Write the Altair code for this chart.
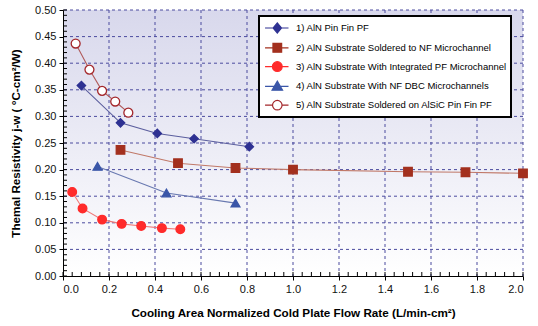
import altair as alt
import pandas as pd

# ---------------- data ----------------
names = [
    "1) AlN Pin Fin PF",
    "2) AlN Substrate Soldered to NF Microchannel",
    "3) AlN Substrate With Integrated PF Microchannel",
    "4) AlN Substrate With NF DBC Microchannels",
    "5) AlN Substrate Soldered on AlSiC Pin Fin PF",
]
s1_x = [0.08, 0.25, 0.41, 0.57, 0.81]
s1_y = [0.358, 0.288, 0.268, 0.258, 0.243]
s2_x = [0.25, 0.50, 0.75, 1.00, 1.50, 1.75, 2.00]
s2_y = [0.237, 0.212, 0.203, 0.200, 0.196, 0.195, 0.193]
s3_x = [0.04, 0.085, 0.17, 0.255, 0.34, 0.43, 0.51]
s3_y = [0.158, 0.127, 0.106, 0.098, 0.094, 0.090, 0.088]
s4_x = [0.15, 0.45, 0.75]
s4_y = [0.206, 0.156, 0.137]
s5_x = [0.055, 0.115, 0.17, 0.227, 0.284]
s5_y = [0.437, 0.388, 0.348, 0.328, 0.307]

x_ticks = [0.0, 0.2, 0.4, 0.6, 0.8, 1.0, 1.2, 1.4, 1.6, 1.8, 2.0]
y_ticks = [0.0, 0.05, 0.10, 0.15, 0.20, 0.25, 0.30, 0.35, 0.40, 0.45, 0.50]
x_minor = [round(i * 0.04, 2) for i in range(51)]
y_minor = [round(i * 0.01, 2) for i in range(51)]

xs_all = [s1_x, s2_x, s3_x, s4_x, s5_x]
ys_all = [s1_y, s2_y, s3_y, s4_y, s5_y]
rows = []
for n, xs, ys in zip(names, xs_all, ys_all):
    for a, b in zip(xs, ys):
        rows.append({"series": n, "x": a, "y": b})
df = pd.DataFrame(rows)

# ---------------- styles ----------------
W, H = 460, 266
FONT = "Liberation Sans"
marker_fill = ["#2E3192", "#A3301E", "#FF2B2B", "#3A56A8", "#FFFFFF"]
marker_stroke = ["#2E3192", "#A3301E", "#FF2B2B", "#3A56A8", "#A3262A"]
line_colors = ["#5B5E9E", "#C07868", "#F07878", "#6878B0", "#B05A5A"]
shapes = ["diamond", "square", "circle", "triangle-up", "circle"]
sizes = [70, 80, 100, 100, 95]
# legend glyphs: short line with the marker, shifted right by 0.9 units
legend_paths = [
    "M-0.85,0H2.5M0.9,-0.72L1.5,0L0.9,0.72L0.3,0Z",
    "M-0.85,0H2.5M0.28,-0.62H1.52V0.62H0.28Z",
    "M-0.85,0H2.5M1.6,0A0.7,0.7,0,1,1,0.2,0A0.7,0.7,0,1,1,1.6,0Z",
    "M-0.85,0H2.5M0.9,-0.75L1.65,0.55H0.15Z",
    "M-0.85,0H0.22M1.58,0H2.5M1.58,0A0.68,0.68,0,1,1,0.22,0A0.68,0.68,0,1,1,1.58,0Z",
]

xscale = alt.Scale(domain=[0, 2], nice=False, zero=True)
yscale = alt.Scale(domain=[0, 0.5], nice=False, zero=True)
xaxis = alt.Axis(values=x_ticks, format=".1f", grid=False, tickSize=4, labelPadding=3,
                 domainColor="black", tickColor="black", labelColor="#111111",
                 labelFont=FONT, labelFontSize=11, title="Cooling Area Normalized Cold Plate Flow Rate (L/min-cm²)",
                 titleFont=FONT, titleFontSize=11.7, titleFontWeight="bold", titleColor="black",
                 titlePadding=13, zindex=1)
yaxis = alt.Axis(values=y_ticks, format=".2f", grid=False, tickSize=4, labelPadding=3,
                 domainColor="black", tickColor="black", labelColor="#111111",
                 labelFont=FONT, labelFontSize=11, title="Themal Resistivity j-w ( °C-cm²/W)",
                 titleFont=FONT, titleFontSize=11.7, titleFontWeight="bold", titleColor="black",
                 titlePadding=13, zindex=1)

X = alt.X("x:Q", scale=xscale, axis=xaxis)
Y = alt.Y("y:Q", scale=yscale, axis=yaxis)

grad = alt.LinearGradient(
    gradient="linear",
    stops=[alt.GradientStop(color="#D8D8EC", offset=0), alt.GradientStop(color="#FFFFFF", offset=1)],
    x1=0, x2=0, y1=0, y2=1,
)
bg = alt.Chart(pd.DataFrame({"a": [0]})).mark_rect(fill=grad).encode(
    x=alt.value(0), x2=alt.value(W), y=alt.value(0), y2=alt.value(H)
)

gx = pd.DataFrame({"x": x_ticks[1:]})
gy = pd.DataFrame({"y": y_ticks[1:]})
grid_v = alt.Chart(gx).mark_rule(color="#4A4A9E", strokeDash=[3, 3], strokeWidth=1).encode(x=X)
grid_h = alt.Chart(gy).mark_rule(color="#4A4A9E", strokeDash=[3, 3], strokeWidth=1).encode(y=Y)

mx = pd.DataFrame({"x": x_minor})
my = pd.DataFrame({"y": y_minor})
minor_x = alt.Chart(mx).mark_rule(color="black", strokeWidth=1).encode(
    x=X, y=alt.value(H), y2=alt.value(H - 4))
minor_y = alt.Chart(my).mark_rule(color="black", strokeWidth=1).encode(
    y=Y, x=alt.value(0), x2=alt.value(4))

lines = alt.Chart(df).mark_line(strokeWidth=1.1).encode(
    x=X, y=Y,
    stroke=alt.Stroke("series:N", scale=alt.Scale(domain=names, range=line_colors), legend=None),
)

points = alt.Chart(df).mark_point(filled=True, opacity=1, strokeWidth=1.3).encode(
    x=X, y=Y,
    shape=alt.Shape("series:N", scale=alt.Scale(domain=names, range=shapes), legend=None),
    fill=alt.Fill("series:N", scale=alt.Scale(domain=names, range=marker_fill), legend=None),
    stroke=alt.Stroke("series:N", scale=alt.Scale(domain=names, range=marker_stroke), legend=None),
    size=alt.Size("series:N", scale=alt.Scale(domain=names, range=sizes), legend=None),
)

L = alt.Legend(
    title=None, orient="none", legendX=196, legendY=6,
    fillColor="white", strokeColor="black", padding=4, rowPadding=3.8,
    symbolSize=196, symbolStrokeWidth=1.2, symbolOpacity=1,
    labelFont=FONT, labelFontSize=9.5, labelColor="black", labelOffset=17, labelLimit=400,
    labelExpr="datum.label + '\u00a0'",
)
carrier = alt.Chart(df).mark_point(filled=True, opacity=0).encode(
    x=X, y=Y,
    shape=alt.Shape("series:N", scale=alt.Scale(domain=names, range=legend_paths), legend=L),
    fill=alt.Fill("series:N", scale=alt.Scale(domain=names, range=marker_fill), legend=L),
    stroke=alt.Stroke("series:N", scale=alt.Scale(domain=names, range=marker_stroke), legend=L),
)

chart = alt.layer(bg, grid_v, grid_h, minor_x, minor_y, lines, points, carrier).resolve_scale(
    shape="independent", fill="independent", stroke="independent", size="independent"
).properties(
    width=W, height=H,
    autosize=alt.AutoSizeParams(type="none"),
    padding={"left": 63, "top": 10, "right": 15, "bottom": 50},
    background="white",
).configure_view(stroke=None).configure_legend(strokeWidth=2)

chart.save("out.html", embed_options={"renderer": "svg", "actions": False})
